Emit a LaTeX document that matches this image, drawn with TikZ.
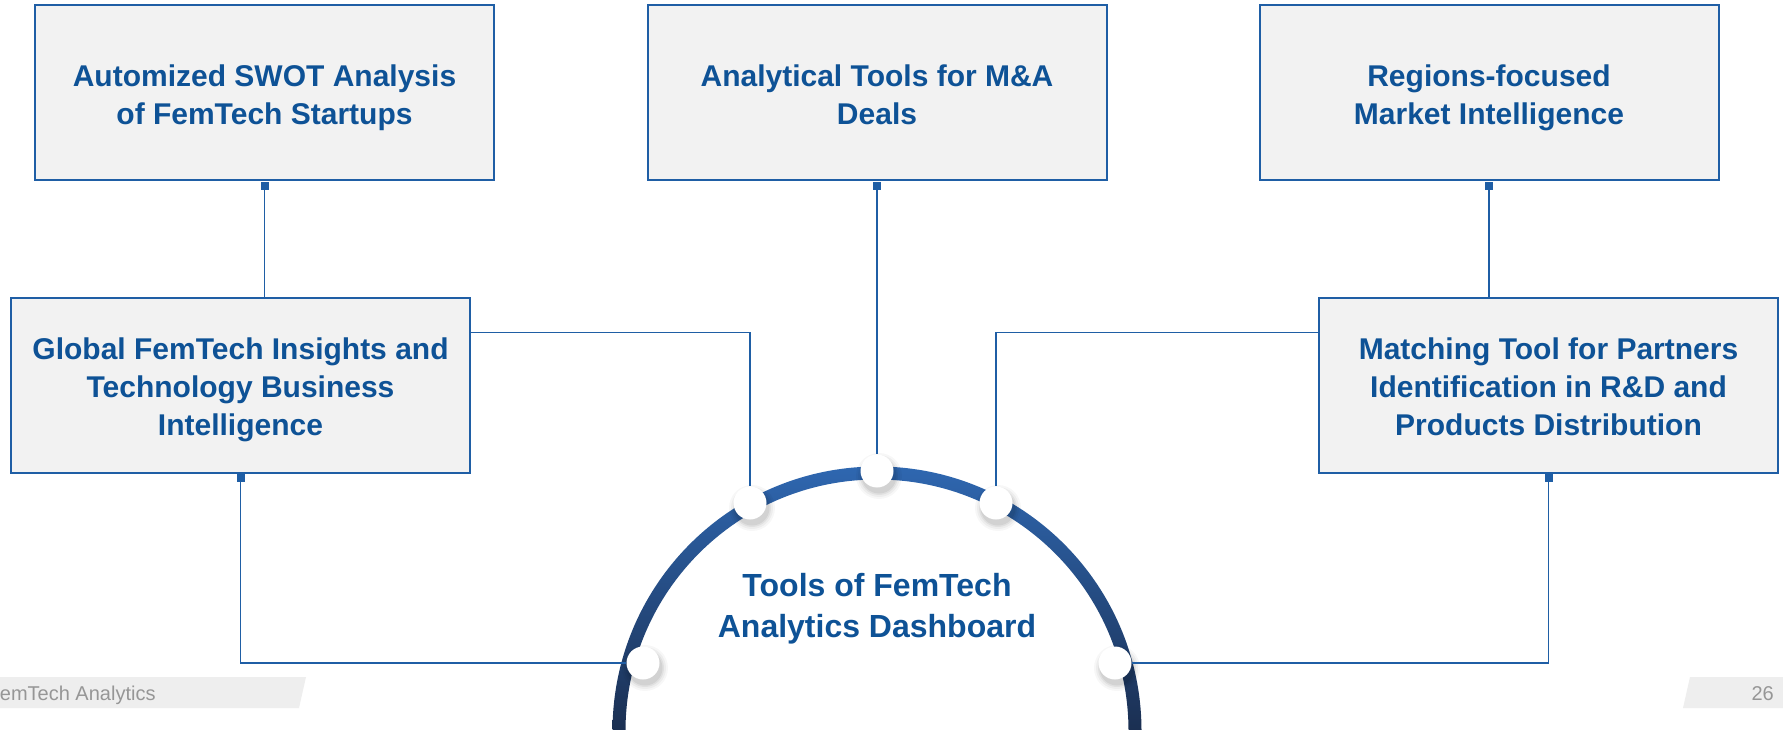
\documentclass[tikz,border=0pt]{standalone}
\usepackage{fontspec}
\setmainfont{Liberation Sans}
\usetikzlibrary{calc}
\definecolor{txtblue}{RGB}{14,82,150}
\definecolor{lineblue}{RGB}{31,94,165}
\definecolor{boxfill}{RGB}{242,242,242}
\definecolor{arctop}{RGB}{47,104,178}
\definecolor{arcmid}{RGB}{36,80,140}
\definecolor{arcbot}{RGB}{26,45,78}
\definecolor{footgrey}{RGB}{238,238,238}
\definecolor{foottext}{RGB}{150,150,150}
\begin{document}
\begin{tikzpicture}[x=1pt,y=-1pt,
  infobox/.style={draw=lineblue, line width=2pt, fill=boxfill, minimum width=459pt,
    minimum height=175pt, inner sep=0pt},
  boxtext/.style={inner sep=0pt, text=txtblue, align=center,
    font=\bfseries\fontsize{30}{38}\selectfont},
  conn/.style={draw=lineblue, line width=1.8pt},
  tabsq/.style={fill=lineblue, draw=none, minimum size=8pt, inner sep=0pt, anchor=north},
  dot/.style={circle, fill=white, minimum size=33pt, inner sep=0pt},
  ]
\useasboundingbox (0,0) rectangle (1783,730);
\fill[white] (0,0) rectangle (1783,730);

% footer
\fill[footgrey] (0,677) -- (306,677) -- (299,708) -- (0,708) -- cycle;
\fill[footgrey] (1690,677) -- (1783,677) -- (1783,708) -- (1683,708) -- cycle;
\node[anchor=base west, inner sep=0pt, text=foottext, font=\fontsize{20}{24}\selectfont] (foot) at (-12.5,700) {FemTech Analytics};
\node[anchor=base east, inner sep=0pt, text=foottext, font=\fontsize{20}{24}\selectfont] (pg) at (1774,700) {26};

% arc
\begin{scope}[even odd rule]
\clip (877,731) circle[radius=264.5pt] (877,731) circle[radius=251.5pt];
\shade[top color=arctop, middle color=arcmid, bottom color=arcbot] (600,462) rectangle (1160,740);
\end{scope}

% boxes
\node[infobox] (swot) at (264.5,93) {};
\node[infobox] (ma) at (877,93) {};
\node[infobox] (reg) at (1489,93) {};
\node[infobox] (lm) at (240.5,385.5) {};
\node[infobox] (rm) at (1548.5,385.5) {};
\node[boxtext] (swotT) at ($(swot.center)+(0,5)$) {Automized SWOT Analysis\\of FemTech Startups};
\node[boxtext] (maT) at ($(ma.center)+(0,1.5)$) {Analytical Tools for M\&A\\Deals};
\node[boxtext] (regT) at ($(reg.center)+(0,5)$) {Regions-focused\\Market Intelligence};
\node[boxtext] (lmT) at ($(lm.center)+(0,4.5)$) {Global FemTech Insights and\\Technology Business\\Intelligence};
\node[boxtext] (rmT) at ($(rm.center)+(0,1.5)$) {Matching Tool for Partners\\Identification in R\&D and\\Products Distribution};

% tabs
\node[tabsq] (sq1) at (swot.south) {};
\node[tabsq] (sq2) at (ma.south) {};
\node[tabsq] (sq3) at (reg.south) {};
\node[tabsq] (sq4) at (lm.south) {};
\node[tabsq] (sq5) at (rm.south) {};

% circle positions
\coordinate (pt) at (877,471);
\coordinate (pul) at (750,503);
\coordinate (pur) at (996,503);
\coordinate (pl) at (643,663);
\coordinate (pr) at (1115,663);

% shadows
\foreach \p in {pt,pul,pur,pl,pr}{
  \foreach \r/\o in {23pt/0.03,21pt/0.04,19pt/0.05,17.5pt/0.06}{
    \fill[black,opacity=\o] ($(\p)+(2,5)$) circle[radius=\r];
  }
}

% circles
\node[dot] (dtop) at (pt) {};
\node[dot] (dul) at (pul) {};
\node[dot] (dur) at (pur) {};
\node[dot] (dl) at (pl) {};
\node[dot] (dr) at (pr) {};

% connectors
\draw[conn] (sq1.south) -- (sq1.south |- lm.north);
\draw[conn] (sq3.south) -- (sq3.south |- rm.north);
\draw[conn] (sq2.south) -- (dtop);
\draw[conn] ($(lm.north east)!0.2!(lm.south east)$) -| (dul);
\draw[conn] ($(rm.north west)!0.2!(rm.south west)$) -| (dur);
\draw[conn] (sq4.south) |- (dl);
\draw[conn] (sq5.south) |- (dr);

% title
\node[text=txtblue, font=\bfseries\fontsize{32}{41}\selectfont, align=center] (title) at (877,609) {Tools of FemTech\\Analytics Dashboard};
\end{tikzpicture}
\end{document}
